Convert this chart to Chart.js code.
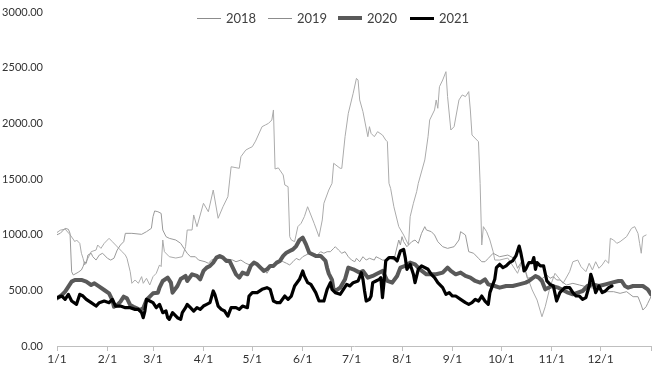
<!DOCTYPE html>
<html>
<head>
<meta charset="utf-8">
<script src="https://cdn.jsdelivr.net/npm/chart.js@4/dist/chart.umd.min.js"></script>
<style>
  html, body { margin: 0; padding: 0; background: #ffffff; }
  #wrap { position: relative; width: 659px; height: 372px; }
  #legend { position: absolute; top: 0; left: 0; width: 659px; height: 30px; font-family: Lato, "Open Sans", sans-serif; font-size: 13px; color: #404040; }
  .item { position: absolute; top: 10px; height: 16px; display: flex; align-items: center; white-space: nowrap; }
  .swatch { display: inline-block; width: 24px; margin-right: 5px; }
</style>
</head>
<body>
<div id="wrap">
  <canvas id="c" width="659" height="372"></canvas>
  <div id="legend"></div>
</div>
<script>
// ---- Categories / axis ticks (day of year, 1/1 = 0) ----
const monthDays   = [0, 31, 59, 90, 120, 151, 181, 212, 243, 273, 304, 334, 365];
const monthLabels = ['1/1','2/1','3/1','4/1','5/1','6/1','7/1','8/1','9/1','10/1','11/1','12/1',''];
const yTicks = [0, 500, 1000, 1500, 2000, 2500, 3000];
const seriesNames = ['2018', '2019', '2020', '2021'];

// ---- 2018 ----
const days2018 = [0,2,5,7,8,9,10,13,15,16,17,18,19,21,22,24,26,28,31,33,35,37,39,41,42,46,52,55,58,59,60,62,64,65,67,69,73,76,78,80,82,85,87,91,93,95,98,102,108,110,113,116,119,121,123,125,127,129,131,133,135,137,139,141,143,145,147,149,151,153,155,158,160,162,164,166,168,170,171,173,175,177,179,181,183,184,186,188,190,192,195,196,198,200,203,205,207,210,211,212,213,215,218,220,222,224,226,227,230,232,234,237,240,244,247,248,251,253,256,259,261,263,265,268,272,277,281,283,286,289,293,297,301,303,305,307,309,313,317,321,325,330,334,338,342,346,350,354,357,359,360,362,363,365];
const vals2018 = [1000,1012,1057,1048,1012,667,638,662,683,713,757,743,817,833,802,772,817,833,788,772,788,862,907,937,1012,1012,1003,1027,1057,1162,1213,1206,1191,1042,982,967,952,922,877,833,802,802,772,757,743,772,788,788,772,757,772,743,725,757,728,713,698,653,698,728,743,772,757,743,728,757,787,772,802,817,833,833,817,847,833,847,847,877,892,862,833,847,802,772,757,788,757,802,772,788,772,802,788,772,772,788,772,952,907,982,937,892,937,952,922,1012,1072,1042,1027,997,937,892,877,892,952,1027,997,847,833,788,757,757,787,833,802,817,787,698,772,608,623,593,638,608,623,593,593,548,563,548,533,518,503,488,488,473,488,443,443,368,323,353,383,443];

// ---- 2019 ----
const days2019 = [0,2,5,8,11,12,14,15,16,17,19,21,24,25,27,29,32,34,36,38,40,42,43,45,46,48,50,52,53,55,57,59,61,63,64,65,66,69,73,77,79,80,83,84,86,90,93,96,99,102,105,107,112,113,116,118,120,122,126,128,130,132,133,134,136,139,140,142,143,144,146,148,150,152,154,158,161,163,164,167,169,170,174,175,177,179,182,184,185,186,188,189,191,192,193,195,197,200,202,203,204,205,207,210,213,216,217,219,221,222,226,228,229,232,233,234,235,237,239,240,242,244,247,249,251,253,254,255,259,260,261,262,264,266,268,269,272,277,283,286,289,292,295,298,300,303,306,311,315,317,320,322,325,327,329,331,333,335,337,339,340,342,344,346,350,353,355,357,358,359,360,362];
const vals2019 = [1020,1040,1050,1000,937,952,922,833,788,728,788,847,862,907,877,922,967,937,907,877,847,817,788,667,563,593,563,623,563,608,548,623,653,728,713,952,847,802,790,802,892,1042,1042,1177,1072,1282,1206,1401,1147,1251,1341,1610,1596,1700,1760,1776,1790,1840,1970,1985,2000,2030,2120,1590,1600,1536,1446,1431,982,952,937,1072,1102,1162,1251,1102,982,1132,1282,1401,1461,1641,1596,1596,1880,2090,2270,2404,2389,2210,2105,2030,1880,1970,1910,1880,1925,1895,1850,1835,1461,1416,1251,1072,997,907,1161,1282,1386,1461,1671,1880,2030,2120,2210,2135,2329,2389,2464,2240,1940,1970,2210,2255,2240,2285,2120,1895,1835,1461,907,1072,1027,952,847,772,772,790,653,772,623,503,413,263,353,533,653,563,668,757,772,712,668,743,683,757,698,728,772,743,967,952,922,937,982,1057,1072,1012,922,833,982,997];

// ---- 2020 ----
const days2020 = [0,3,5,7,9,11,15,18,21,23,26,29,32,34,35,37,39,41,43,45,47,49,51,53,55,57,59,62,63,65,68,70,71,74,76,79,80,83,86,88,90,92,94,96,98,100,102,104,106,108,110,112,114,117,119,121,123,125,127,129,131,133,135,137,139,141,143,145,147,149,151,153,155,159,162,165,166,167,169,170,172,174,177,179,182,186,188,191,194,196,200,203,206,209,211,214,217,220,223,227,233,237,240,242,245,248,251,254,257,260,263,265,269,272,276,280,284,288,290,294,296,298,300,302,304,308,310,314,317,320,323,326,329,333,337,341,345,347,349,351,354,357,360,363,365];
const vals2020 = [428,458,488,533,578,593,593,578,548,563,533,503,473,413,353,368,398,443,428,368,353,339,323,339,413,443,473,479,524,584,614,569,479,539,602,629,584,644,629,599,674,704,719,749,794,809,794,764,764,704,644,614,659,644,719,749,734,704,674,689,719,719,749,764,809,838,853,868,898,952,973,913,838,809,809,764,700,650,593,503,503,524,599,704,689,659,674,614,629,644,674,584,569,629,704,719,749,734,689,644,644,659,704,674,644,659,629,614,584,569,599,554,539,524,539,539,554,569,584,629,614,584,509,524,539,524,509,479,464,479,494,539,554,539,554,569,584,584,539,524,539,539,539,509,464];

// ---- 2021 ----
const days2021 = [0,3,5,7,9,12,14,16,18,21,24,26,29,32,34,36,39,42,45,48,50,52,53,54,55,57,59,61,63,65,67,68,69,71,74,76,77,79,80,82,84,86,88,90,92,94,96,97,99,101,103,105,107,110,112,114,117,118,120,123,126,129,131,133,135,137,140,142,144,146,149,151,152,154,156,159,161,164,166,168,169,171,174,176,178,180,182,185,187,188,189,190,192,193,194,196,198,199,200,201,202,204,207,209,211,213,214,215,217,219,220,222,224,228,230,232,234,237,239,241,243,245,248,251,253,255,257,259,261,263,265,266,269,270,272,274,276,278,280,282,284,285,286,287,288,290,292,293,294,295,297,299,301,303,305,307,309,312,315,317,319,321,323,325,327,328,329,331,333,335,337,339,341];
const vals2021 = [434,449,419,464,404,374,464,449,419,389,359,389,404,389,419,359,359,344,344,329,329,299,254,314,419,404,389,344,374,299,314,254,239,299,254,239,299,344,374,344,314,344,329,359,374,389,494,464,359,329,314,269,344,344,329,359,344,449,479,479,509,524,509,404,389,389,449,419,449,539,599,674,629,569,554,479,404,404,509,569,509,479,464,509,554,539,569,584,659,599,494,404,419,449,569,584,599,614,434,584,764,794,794,764,853,868,794,689,734,644,569,689,719,689,644,614,569,524,464,479,449,449,419,389,374,389,419,404,449,404,374,479,599,704,734,704,719,749,764,809,898,838,764,674,689,749,749,794,689,749,719,719,584,554,539,404,479,524,524,479,449,449,419,434,539,644,599,479,539,479,494,524,539];

const toPoints = (d, v) => d.map((x, i) => ({ x: x, y: v[i] }));

const styles = [
  { color: '#9a9a9a', width: 1,   order: 2 },
  { color: '#ababab', width: 1,   order: 3 },
  { color: '#595959', width: 4,   order: 1 },
  { color: '#000000', width: 3.2, order: 0 }
];
const seriesData = [
  toPoints(days2018, vals2018),
  toPoints(days2019, vals2019),
  toPoints(days2020, vals2020),
  toPoints(days2021, vals2021)
];

const datasets = seriesNames.map((name, i) => ({
  label: name,
  data: seriesData[i],
  borderColor: styles[i].color,
  backgroundColor: styles[i].color,
  borderWidth: styles[i].width,
  order: styles[i].order,
  pointRadius: 0,
  pointHoverRadius: 0,
  tension: 0,
  fill: false,
  borderJoinStyle: 'round',
  borderCapStyle: 'round'
}));

// HTML legend built from the dataset definitions
const legendPos = [197, 268, 338, 410];
const legendEl = document.getElementById('legend');
seriesNames.forEach((name, i) => {
  const it = document.createElement('div');
  it.className = 'item';
  it.style.left = legendPos[i] + 'px';
  const sw = document.createElement('span');
  sw.className = 'swatch';
  sw.style.height = Math.max(1, Math.round(styles[i].width)) + 'px';
  sw.style.background = i < 2 ? '#8c8c8c' : styles[i].color;
  const tx = document.createElement('span');
  tx.textContent = name;
  it.appendChild(sw);
  it.appendChild(tx);
  legendEl.appendChild(it);
});

new Chart(document.getElementById('c'), {
  type: 'line',
  data: { datasets: datasets },
  options: {
    responsive: false,
    animation: false,
    layout: { padding: { top: 12, right: 8, left: 0, bottom: 0 } },
    plugins: { legend: { display: false }, tooltip: { enabled: false } },
    scales: {
      x: {
        type: 'linear',
        min: 0,
        max: 365,
        afterBuildTicks: (axis) => { axis.ticks = monthDays.map(v => ({ value: v })); },
        afterFit: (scale) => { scale.height = 26; },
        ticks: {
          autoSkip: false,
          maxRotation: 0,
          padding: 1,
          color: '#333333',
          font: { family: 'Lato, "Open Sans", sans-serif', size: 12 },
          callback: (v) => { const k = monthDays.indexOf(v); return k >= 0 ? monthLabels[k] : ''; }
        },
        grid: { display: true, drawOnChartArea: false, drawTicks: true, tickLength: 5, color: '#bfbfbf', lineWidth: 1 },
        border: { display: true, color: '#bfbfbf', width: 1 }
      },
      y: {
        min: 0,
        max: 3000,
        afterBuildTicks: (axis) => { axis.ticks = yTicks.map(v => ({ value: v })); },
        afterFit: (scale) => { scale.width = 57; scale.paddingTop = 6; scale.paddingBottom = 6; },
        ticks: {
          padding: 14,
          color: '#333333',
          font: { family: 'Lato, "Open Sans", sans-serif', size: 11 },
          callback: (v) => Number(v).toFixed(2)
        },
        grid: { display: false, drawTicks: false },
        border: { display: false }
      }
    }
  }
});
</script>
</body>
</html>
